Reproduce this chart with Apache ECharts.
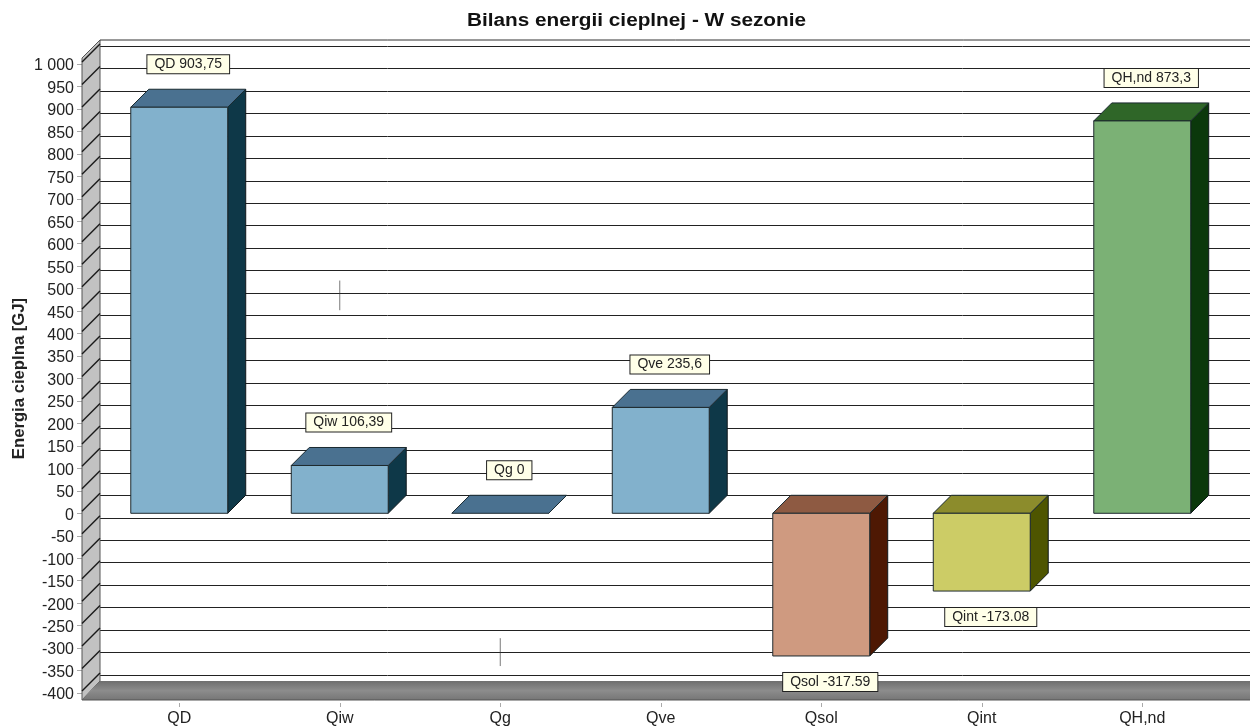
<!DOCTYPE html>
<html>
<head>
<meta charset="utf-8">
<style>html,body{margin:0;padding:0;background:#fff}#c{width:1250px;height:727px}</style>
<script src="https://cdn.jsdelivr.net/npm/echarts@6/dist/echarts.min.js"></script>
</head>
<body>
<div id="c"></div>
<script>
const chartTitle = 'Bilans energii cieplnej - W sezonie';
const categories = ['QD', 'Qiw', 'Qg', 'Qve', 'Qsol', 'Qint', 'QH,nd'];
const values = [903.75, 106.39, 0, 235.6, -317.59, -173.08, 873.3];
const valueLabels = ['QD 903,75', 'Qiw 106,39', 'Qg 0', 'Qve 235,6', 'Qsol -317.59', 'Qint -173.08', 'QH,nd 873,3'];
const yTicks = [1000, 950, 900, 850, 800, 750, 700, 650, 600, 550, 500, 450, 400, 350, 300, 250, 200, 150, 100, 50, 0, -50, -100, -150, -200, -250, -300, -350, -400];
const strayCategories = [1, 2, 4];
const strayLow = [452, -340, -209];
const strayHigh = [518, -278, -145];

const palette = [
  { front: '#82B1CC', top: '#4A7190', side: '#0E3848' },
  { front: '#82B1CC', top: '#4A7190', side: '#0E3848' },
  { front: '#82B1CC', top: '#4A7190', side: '#0E3848' },
  { front: '#82B1CC', top: '#4A7190', side: '#0E3848' },
  { front: '#CF9A80', top: '#8E5A42', side: '#4E1803' },
  { front: '#CCCC66', top: '#8C8C2C', side: '#4E5500' },
  { front: '#7BB175', top: '#2F6628', side: '#0B380B' }
];
const DEPTH = 18;
const FONT = '"Liberation Sans", Arial, sans-serif';
const poly = (pts, fill, stroke, lw) => ({
  type: 'polygon',
  shape: { points: pts },
  style: { fill: fill, stroke: stroke || null, lineWidth: lw || 1 }
});

const chart = echarts.init(document.getElementById('c'), null, { renderer: 'canvas' });

function renderShell(params, api) {
  const t = api.coord([0, 1000]);
  const b = api.coord([0, -400]);
  const cs = params.coordSys;
  const fx = cs.x - 17, bx = cs.x + 1;
  const right = cs.x + cs.width + 40;
  return {
    type: 'group',
    silent: true,
    children: [
      poly([[fx, t[1] - 6], [bx, t[1] - 24], [bx, b[1] - 12], [fx, b[1] + 7]], '#C2C2C2', '#555', 1),
      {
        type: 'polygon',
        shape: { points: [[bx, b[1] - 12], [right, b[1] - 12], [right, b[1] + 7], [fx, b[1] + 7]] },
        style: {
          fill: new echarts.graphic.LinearGradient(0, 0, 0, 1, [
            { offset: 0, color: '#6E6E6E' }, { offset: 0.5, color: '#8C8C8C' }, { offset: 1, color: '#767676' }
          ])
        }
      },
      { type: 'line', shape: { x1: bx, y1: t[1] - 24, x2: right, y2: t[1] - 24 }, style: { stroke: '#333', lineWidth: 1 } },
      { type: 'line', shape: { x1: fx, y1: b[1] + 7, x2: right, y2: b[1] + 7 }, style: { stroke: '#555', lineWidth: 1 } }
    ]
  };
}

function renderHatch(params, api) {
  const p = api.coord([0, api.value(0)]);
  const cs = params.coordSys;
  return {
    type: 'line',
    silent: true,
    shape: { x1: cs.x - 17, y1: p[1] - 2, x2: cs.x + 1, y2: p[1] - 20 },
    style: { stroke: '#1A1A1A', lineWidth: 1.4 }
  };
}

function renderBar(params, api) {
  const i = api.value(0), v = api.value(1);
  const c = palette[i];
  const half = api.size([1, 0])[0] * 0.302;
  const a = api.coord([i, Math.max(v, 0)]);
  const z = api.coord([i, Math.min(v, 0)]);
  const l = a[0] - half, r = a[0] + half, t = a[1], b = z[1];
  const d = DEPTH;
  const children = [
    poly([[r, t], [r + d, t - d], [r + d, b - d], [r, b]], c.side, '#10181C', 1),
    poly([[l, t], [l + d, t - d], [r + d, t - d], [r, t]], c.top, '#1A2A30', 1)
  ];
  if (b - t > 0.5) {
    children.push(poly([[l, t], [r, t], [r, b], [l, b]], c.front, '#1E2A2E', 1));
  }
  const labelY = v < 0 ? b + 26 : t - d - 25;
  children.push({
    type: 'text',
    z2: 10,
    style: {
      text: valueLabels[i],
      x: a[0] + 9,
      y: labelY,
      align: 'center',
      verticalAlign: 'middle',
      font: '14px ' + FONT,
      fill: '#222',
      backgroundColor: '#FFFFE8',
      borderColor: '#222',
      borderWidth: 1,
      padding: [2, 7, 2, 7],
      boxShadowColor: 'rgba(0,0,0,0.25)',
      boxShadowBlur: 2,
      boxShadowOffsetX: 1,
      boxShadowOffsetY: 1
    }
  });
  return { type: 'group', children: children };
}

function renderStray(params, api) {
  const i = params.dataIndex;
  const a = api.coord([api.value(0), strayHigh[i]]);
  const b = api.coord([api.value(0), strayLow[i]]);
  return {
    type: 'line',
    silent: true,
    shape: { x1: a[0], y1: a[1], x2: b[0], y2: b[1] },
    style: { stroke: 'rgba(50,50,50,0.65)', lineWidth: 1 }
  };
}

chart.setOption({
  animation: false,
  backgroundColor: '#fff',
  graphic: [{
    type: 'text',
    x: 636.5,
    y: 21,
    scaleX: 1.153,
    silent: true,
    style: {
      text: chartTitle,
      align: 'center',
      verticalAlign: 'middle',
      font: 'bold 18px ' + FONT,
      fill: '#111'
    }
  }],
  grid: [
    { left: 99, top: 64, width: 1123.5, height: 629, outerBoundsMode: 'none' },
    { left: 100, top: 46, right: 0, height: 629, outerBoundsMode: 'none' }
  ],
  xAxis: [
    {
      type: 'category', gridIndex: 0, data: categories, position: 'bottom', offset: 10,
      axisLine: { show: false, onZero: false },
      axisTick: { show: true, alignWithLabel: true, length: 4, lineStyle: { color: '#AAA' } },
      axisLabel: { margin: 8, fontFamily: FONT, fontSize: 16, color: '#222', interval: 0 },
      splitLine: { show: false }
    },
    {
      type: 'category', gridIndex: 1, data: categories, show: false
    }
  ],
  yAxis: [
    {
      type: 'value', gridIndex: 0, min: -400, max: 1000, interval: 50, position: 'left', offset: 17,
      name: 'Energia cieplna [GJ]', nameLocation: 'middle', nameGap: 54, nameRotate: 90, nameMoveOverlap: false,
      nameTextStyle: { fontFamily: FONT, fontWeight: 'bold', fontSize: 16.7, color: '#222' },
      axisLine: { show: false },
      axisTick: { show: true, length: 5, lineStyle: { color: '#AAA' } },
      axisLabel: {
        margin: 8, color: '#222',
        formatter: v => '{t|' + (v === 1000 ? '1 000' : String(v)) + '}',
        rich: { t: { fontFamily: FONT, fontSize: 16, color: '#222', padding: [4, 0, 0, 0] } }
      },
      splitLine: { show: false }
    },
    {
      type: 'value', gridIndex: 1, min: -400, max: 1000, interval: 50,
      axisLine: { show: false }, axisTick: { show: false }, axisLabel: { show: false },
      splitLine: { show: true, lineStyle: { color: '#222', width: 1 } }
    }
  ],
  series: [
    { type: 'custom', name: 'shell', xAxisIndex: 0, yAxisIndex: 0, z: 3, clip: false, silent: true, renderItem: renderShell, data: [0] },
    { type: 'custom', name: 'hatch', xAxisIndex: 0, yAxisIndex: 0, z: 4, clip: false, silent: true, renderItem: renderHatch, encode: { y: 0 }, data: yTicks.map(v => [v]) },
    { type: 'custom', name: 'stray', xAxisIndex: 0, yAxisIndex: 0, z: 4, clip: false, silent: true, renderItem: renderStray, data: strayCategories.map(c => [c]) },
    { type: 'custom', name: 'bars', xAxisIndex: 0, yAxisIndex: 0, z: 5, clip: false, renderItem: renderBar, encode: { x: 0, y: 1 }, data: values.map((v, i) => [i, v]) }
  ]
});
</script>
</body>
</html>
